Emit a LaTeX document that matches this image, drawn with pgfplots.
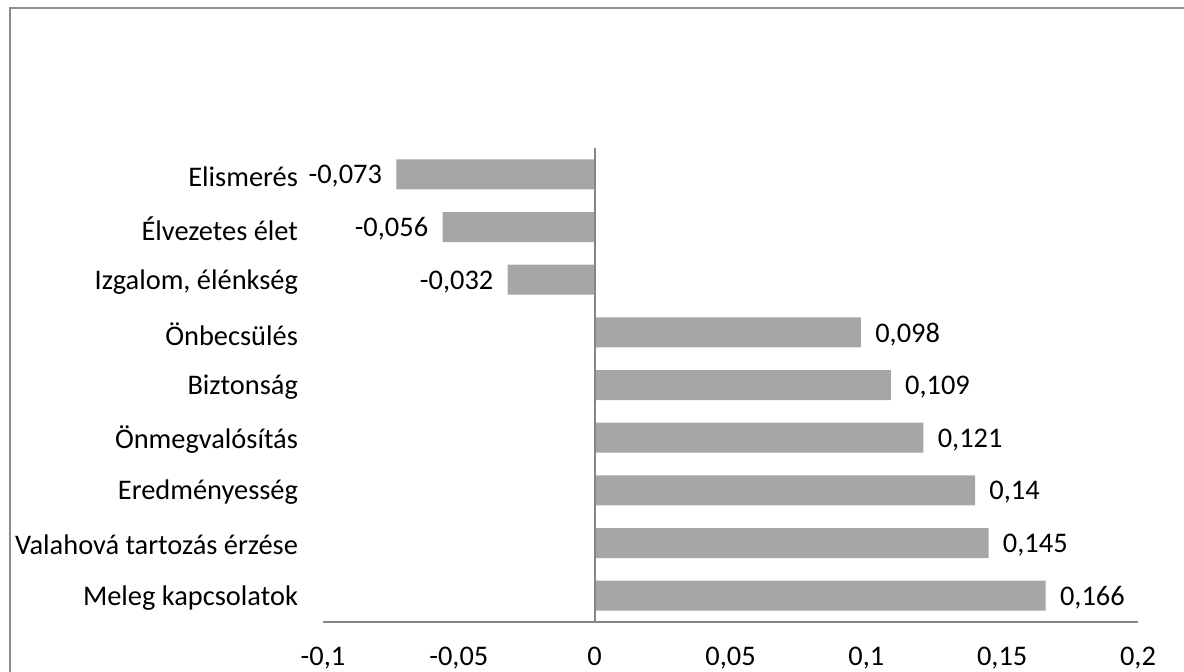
\documentclass[border=0pt]{standalone}
\usepackage{fontspec}
\setmainfont{Carlito}
\usepackage{pgfplots}
\pgfplotsset{compat=1.18}
\definecolor{barfill}{HTML}{A6A6A6}
\definecolor{axisgray}{HTML}{868686}
\definecolor{framegray}{HTML}{8C8C8C}
\begin{document}
\begin{tikzpicture}[font=\fontsize{14.2}{17}\selectfont]
\useasboundingbox (0,0) rectangle (592pt,335.5pt);
\draw[framegray, line width=1.2pt] (5pt,-10pt) -- (5pt,331.5pt) -- (610pt,331.5pt);
\begin{axis}[
  at={(161.5pt,24.5pt)}, anchor=south west,
  width=407.5pt, height=237pt, scale only axis,
  xmin=-0.1, xmax=0.2, ymin=-0.5, ymax=8.5,
  xbar, bar width=15pt,
  axis x line*=bottom, axis y line*=left,
  y axis line style={draw=none},
  x axis line style={axisgray, line width=0.9pt},
  xtick={-0.1,-0.05,0,0.05,0.1,0.15,0.2},
  xticklabels={{-0,1},{-0,05},{0},{0,05},{0,1},{0,15},{0,2}},
  ytick={0,...,8},
  yticklabels={{Meleg kapcsolatok\ },{Valahová tartozás érzése},{Eredményesség},{Önmegvalósítás},{Biztonság},{Önbecsülés},{Izgalom, élénkség},{Élvezetes élet},{Elismerés}},
  major tick length=0pt,
  xticklabel style={yshift=-9pt, black},
  yticklabel style={xshift=-9pt, yshift=-1pt, black},
  point meta=x,
  nodes near coords={\pgfmathprintnumber[fixed,precision=3,use comma,assume math mode=true]{\pgfplotspointmeta}},
  every node near coord/.append style={inner xsep=7pt, yshift=-1pt, black},
]
\addplot[fill=barfill, draw=none] coordinates {(0.166,0) (0.145,1) (0.14,2) (0.121,3) (0.109,4) (0.098,5) (-0.032,6) (-0.056,7) (-0.073,8)};
\draw[axisgray, line width=0.9pt] (axis cs:0,-0.5) -- (axis cs:0,8.5);
\end{axis}
\end{tikzpicture}
\end{document}
